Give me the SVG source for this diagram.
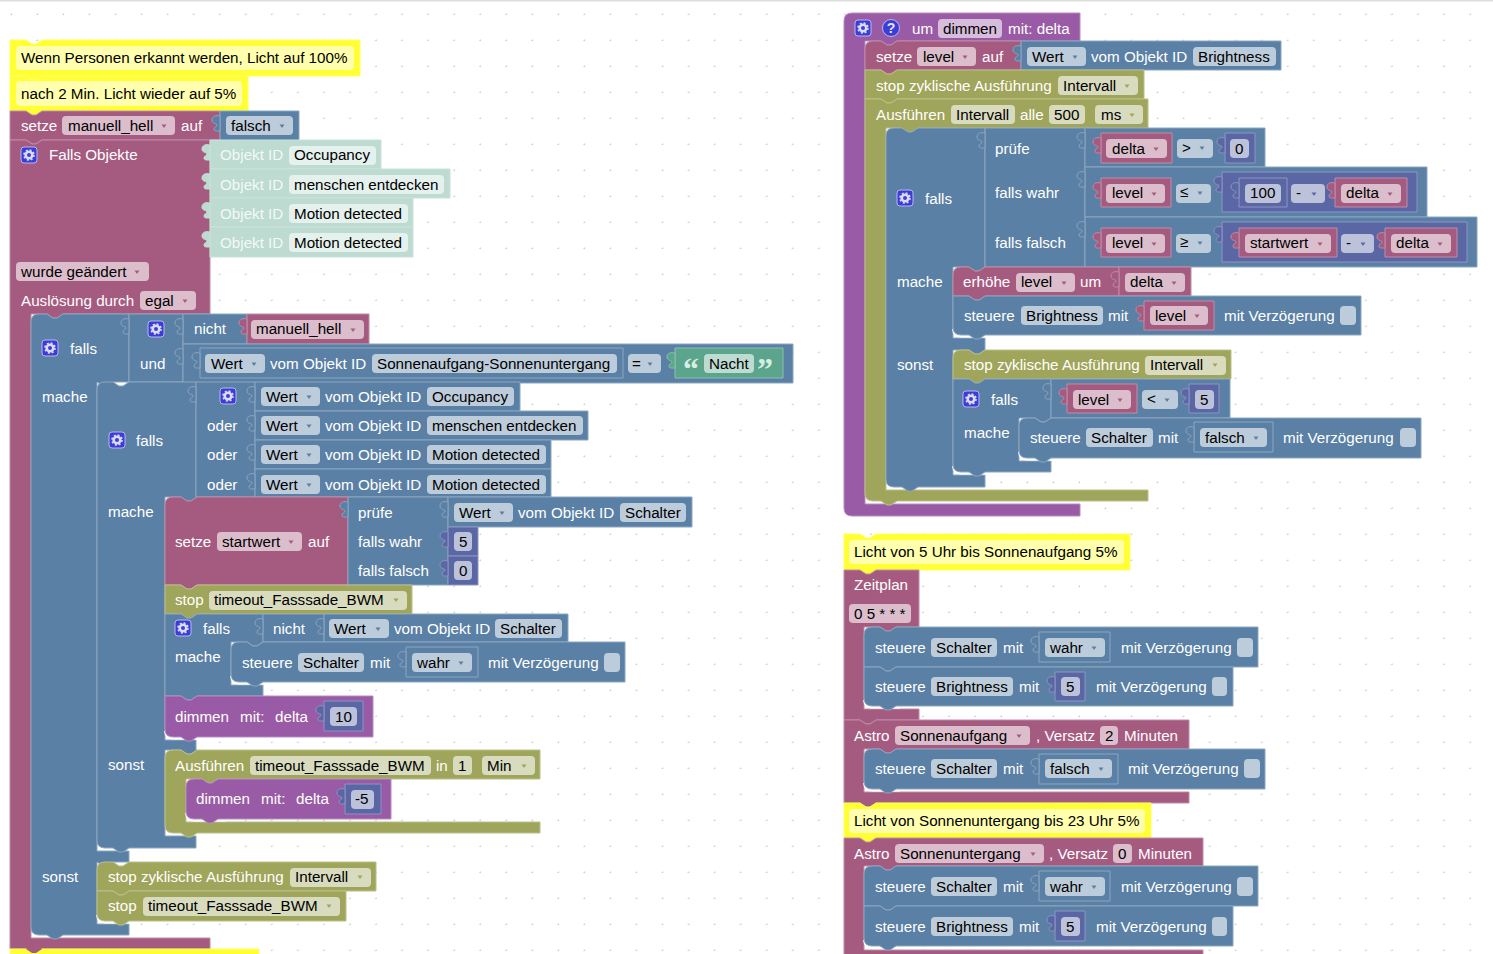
<svg xmlns="http://www.w3.org/2000/svg" width="1493" height="954" viewBox="0 0 1493 954">
<style>
text{font-family:"Liberation Sans",Arial,sans-serif;font-size:15.2px;white-space:pre}
.t{fill:#fff}.d{fill:#000}.c-t{fill:#fff;fill-opacity:.85}
.b{fill:#5B80A5;stroke:#8CA6C0}.m{fill:#A55B80;stroke:#C08CA6}.p{fill:#995BA5;stroke:#B88CC0}
.o{fill:#9FA55B;stroke:#BCC08C}.n{fill:#5B67A5;stroke:#8C95C0}.g{fill:#5BA58C;stroke:#8CC0AE}
.y{fill:#FFFF33;stroke:#FFFF66}.c{fill:#BDDBD1;stroke:#C8E2D9}
.f{fill:#fff;fill-opacity:.6;height:19px;rx:4px;stroke:none}
.w{fill:none;stroke:#fff;stroke-width:2}
.q{font-family:"Liberation Serif",serif;font-size:32px;font-weight:bold;fill:#D8ECE4}
</style>
<defs>
<pattern id="grid" x="11" y="14" width="26.05" height="26" patternUnits="userSpaceOnUse"><rect x="-.5" y="-.5" width="1.6" height="1.6" fill="#ccc"/><rect x="25.5" y="-.5" width="1.6" height="1.6" fill="#ccc"/><rect x="-.5" y="25.5" width="1.6" height="1.6" fill="#ccc"/></pattern>
<path id="tb" d="M0,0 C-4,-1 -8,0 -8,4 C-8,8 -3,7 -3,9 C-3,11 -6,10.500 -6,13 C-6,15.500 -3,15 0,15 z"/>
<path id="a" d="M.5,.5 h5 l-2.500,3.500 z" stroke="none"/>
<g id="gear"><rect x="-8" y="-8" width="16" height="16" rx="3" fill="#3D3DD6" stroke="#B7B7F0"/><circle r="3.3" fill="none" stroke="#D9DDF5" stroke-width="2.6"/><circle r="5" fill="none" stroke="#D9DDF5" stroke-width="1.6" stroke-dasharray="2 1.93"/></g>
</defs>
<rect width="1493" height="954" fill="#fff"/>
<rect width="1493" height="954" fill="url(#grid)"/>
<rect width="1493" height="1.5" fill="#ddd"/>

<g id="comment1"><path class="y" d="M10,40 H26 l6,4 4,0 6,-4 H360 V76 H42 l-6,4 -4,0 -6,-4 H10 z"/><rect class="f" x="16" y="46" width="338" height="24" style="height:24px"/><text class="d" x="21" y="63">Wenn Personen erkannt werden, Licht auf 100%</text></g>
<g id="comment2"><path class="y" d="M10,76 H26 l6,4 4,0 6,-4 H248 V111 H42 l-6,4 -4,0 -6,-4 H10 z"/><rect class="f" x="16" y="81" width="226" height="25" style="height:25px"/><text class="d" x="21" y="99">nach 2 Min. Licht wieder auf 5%</text></g>

<g id="set-manuell"><path class="m" d="M10,111 H26 l6,4 4,0 6,-4 H220 V140 H42 l-6,4 -4,0 -6,-4 H10 z"/><text class="t" x="21" y="131">setze</text><rect class="f" x="62" y="116" width="113"/><text class="d" x="68" y="131">manuell_hell</text><use href="#a" class="m" x="161" y="124"/><text class="t" x="181" y="131">auf</text></g>
<g id="val-falsch"><path class="b" d="M220,111 H299 V141 H220 z"/><use href="#tb" class="b" x="220" y="116"/><rect class="f" x="226" y="116" width="67"/><text class="d" x="231" y="131">falsch</text><use href="#a" class="b" x="279" y="124"/></g>

<g id="trigger"><path class="m" d="M10,140 H26 l6,4 4,0 6,-4 H210 V314 H63 l-6,4 -4,0 -6,-4 H31 V938 H210 V949 H42 l-6,4 -4,0 -6,-4 H10 z"/><use href="#gear" x="29" y="155"/><text class="t" x="49" y="160">Falls Objekte</text><rect class="f" x="16" y="262" width="133"/><text class="d" x="21" y="277">wurde geändert</text><use href="#a" class="m" x="134" y="270"/><text class="t" x="21" y="306">Auslösung durch</text><rect class="f" x="140" y="291" width="56"/><text class="d" x="145" y="306">egal</text><use href="#a" class="m" x="182" y="299"/></g>
<g id="obj-occupancy"><path class="c" d="M210,140 H381 V169 H210 z"/><use href="#tb" class="c" x="210" y="145"/><text class="c-t" x="220" y="160">Objekt ID</text><rect class="f" x="289" y="146" width="87"/><text class="d" x="294" y="160">Occupancy</text></g>
<g id="obj-menschen"><path class="c" d="M210,169 H450 V198 H210 z"/><use href="#tb" class="c" x="210" y="174"/><text class="c-t" x="220" y="190">Objekt ID</text><rect class="f" x="289" y="175" width="155"/><text class="d" x="294" y="190">menschen entdecken</text></g>
<g id="obj-motion1"><path class="c" d="M210,198 H413 V227 H210 z"/><use href="#tb" class="c" x="210" y="203"/><text class="c-t" x="220" y="219">Objekt ID</text><rect class="f" x="289" y="204" width="119"/><text class="d" x="294" y="219">Motion detected</text></g>
<g id="obj-motion2"><path class="c" d="M210,227 H413 V257 H210 z"/><use href="#tb" class="c" x="210" y="232"/><text class="c-t" x="220" y="248">Objekt ID</text><rect class="f" x="289" y="233" width="119"/><text class="d" x="294" y="248">Motion detected</text></g>

<g id="if-outer"><path class="b" d="M31,322 Q31,314 39,314 H47 l6,4 4,0 6,-4 H129 V382 H129 L113,382 l-6,4 -4,0 -6,-4 V851 H129 V862 H113 l-6,4 -4,0 -6,-4 V924 H129 V935 H63 l-6,4 -4,0 -6,-4 H39 Q31,935 31,927 z"/><use href="#gear" x="50" y="348"/><text class="t" x="70" y="354">falls</text><text class="t" x="42" y="402">mache</text><text class="t" x="42" y="882">sonst</text></g>
<g id="and"><path class="b" d="M129,314 H183 V382 H129 z"/><use href="#tb" class="b" x="129" y="319"/><use href="#gear" x="156" y="329"/><text class="t" x="140" y="369">und</text></g>
<g id="not1"><path class="b" d="M183,314 H247 V344 H183 z"/><use href="#tb" class="b" x="183" y="319"/><text class="t" x="194" y="334">nicht</text></g>
<g id="var-manuell"><path class="m" d="M247,314 H369 V344 H247 z"/><use href="#tb" class="m" x="247" y="319"/><rect class="f" x="251" y="320" width="113"/><text class="d" x="256" y="334">manuell_hell</text><use href="#a" class="m" x="350" y="328"/></g>
<g id="cmp-nacht"><path class="b" d="M183,344 H793 V383 H183 z"/><use href="#tb" class="b" x="183" y="349"/><rect class="f" x="628" y="354" width="33"/><text class="d" x="632" y="369">=</text><use href="#a" class="b" x="647" y="362"/></g>
<g id="wert-sonne"><path class="b" d="M200,348 H623 V378 H200 z"/><use href="#tb" class="b" x="200" y="353"/><rect class="f" x="205" y="354" width="60"/><text class="d" x="211" y="369">Wert</text><use href="#a" class="b" x="251" y="362"/><text class="t" x="270" y="369">vom Objekt ID</text><rect class="f" x="372" y="354" width="245"/><text class="d" x="377" y="369">Sonnenaufgang-Sonnenuntergang</text></g>
<g id="text-nacht"><path class="g" d="M675,348 H783 V378 H675 z"/><use href="#tb" class="g" x="675" y="353"/><text class="q" x="683" y="380">“</text><rect class="f" x="704" y="354" width="50"/><text class="d" x="709" y="369">Nacht</text><text class="q" x="757" y="380">”</text></g>

<g id="if-inner"><path class="b" d="M97,390 Q97,382 105,382 H113 l6,4 4,0 6,-4 H196 V497 H197 l-6,4 -4,0 -6,-4 H165 V740 H196 V750 H197 l-6,4 -4,0 -6,-4 H165 V836 H196 V848 H129 l-6,4 -4,0 -6,-4 H105 Q97,848 97,840 z"/><use href="#gear" x="117" y="440"/><text class="t" x="136" y="446">falls</text><text class="t" x="108" y="517">mache</text><text class="t" x="108" y="770">sonst</text></g>
<g id="or"><path class="b" d="M196,382 H255 V497 H196 z"/><use href="#tb" class="b" x="196" y="387"/><use href="#gear" x="228" y="396"/><text class="t" x="207" y="431">oder</text><text class="t" x="207" y="460">oder</text><text class="t" x="207" y="490">oder</text></g>
<g id="wert-occupancy"><path class="b" d="M255,382 H520 V411 H255 z"/><use href="#tb" class="b" x="255" y="387"/><rect class="f" x="261" y="387" width="59"/><text class="d" x="266" y="402">Wert</text><use href="#a" class="b" x="306" y="395"/><text class="t" x="325" y="402">vom Objekt ID</text><rect class="f" x="427" y="387" width="87"/><text class="d" x="432" y="402">Occupancy</text></g>
<g id="wert-menschen"><path class="b" d="M255,411 H588 V440 H255 z"/><use href="#tb" class="b" x="255" y="416"/><rect class="f" x="261" y="416" width="59"/><text class="d" x="266" y="431">Wert</text><use href="#a" class="b" x="306" y="424"/><text class="t" x="325" y="431">vom Objekt ID</text><rect class="f" x="427" y="416" width="156"/><text class="d" x="432" y="431">menschen entdecken</text></g>
<g id="wert-motion1"><path class="b" d="M255,440 H551 V469 H255 z"/><use href="#tb" class="b" x="255" y="445"/><rect class="f" x="261" y="445" width="59"/><text class="d" x="266" y="460">Wert</text><use href="#a" class="b" x="306" y="453"/><text class="t" x="325" y="460">vom Objekt ID</text><rect class="f" x="427" y="445" width="119"/><text class="d" x="432" y="460">Motion detected</text></g>
<g id="wert-motion2"><path class="b" d="M255,469 H551 V497 H255 z"/><use href="#tb" class="b" x="255" y="474"/><rect class="f" x="261" y="475" width="59"/><text class="d" x="266" y="490">Wert</text><use href="#a" class="b" x="306" y="483"/><text class="t" x="325" y="490">vom Objekt ID</text><rect class="f" x="427" y="475" width="119"/><text class="d" x="432" y="490">Motion detected</text></g>

<g id="set-startwert"><path class="m" d="M165,505 Q165,497 173,497 H181 l6,4 4,0 6,-4 H348 V585 H197 l-6,4 -4,0 -6,-4 H165 z"/><text class="t" x="175" y="547">setze</text><rect class="f" x="217" y="532" width="85"/><text class="d" x="222" y="547">startwert</text><use href="#a" class="m" x="288" y="540"/><text class="t" x="308" y="547">auf</text></g>
<g id="ternary1"><path class="b" d="M348,497 H448 V585 H348 z"/><use href="#tb" class="b" x="348" y="502"/><text class="t" x="358" y="518">prüfe</text><text class="t" x="358" y="547">falls wahr</text><text class="t" x="358" y="576">falls falsch</text></g>
<g id="wert-schalter1"><path class="b" d="M448,497 H692 V527 H448 z"/><use href="#tb" class="b" x="448" y="502"/><rect class="f" x="454" y="503" width="59"/><text class="d" x="459" y="518">Wert</text><use href="#a" class="b" x="499" y="511"/><text class="t" x="518" y="518">vom Objekt ID</text><rect class="f" x="620" y="503" width="66"/><text class="d" x="625" y="518">Schalter</text></g>
<g id="num-5a"><path class="n" d="M448,527 H478 V556 H448 z"/><use href="#tb" class="n" x="448" y="532"/><rect class="f" x="454" y="532" width="18"/><text class="d" x="459" y="547">5</text></g>
<g id="num-0a"><path class="n" d="M448,556 H478 V585 H448 z"/><use href="#tb" class="n" x="448" y="561"/><rect class="f" x="454" y="561" width="18"/><text class="d" x="459" y="576">0</text></g>

<g id="stop-timeout1"><path class="o" d="M165,585 H181 l6,4 4,0 6,-4 H412 V614 H197 l-6,4 -4,0 -6,-4 H165 z"/><text class="t" x="175" y="605">stop</text><rect class="f" x="209" y="591" width="198"/><text class="d" x="214" y="605">timeout_Fasssade_BWM</text><use href="#a" class="o" x="393" y="598"/></g>
<g id="if-nicht"><path class="b" d="M165,614 H181 l6,4 4,0 6,-4 H263 V642 H263 L263,642 l-6,4 -4,0 -6,-4 H231 V685 H263 V696 H197 l-6,4 -4,0 -6,-4 H165 z"/><use href="#gear" x="183" y="628"/><text class="t" x="203" y="634">falls</text><text class="t" x="175" y="662">mache</text></g>
<g id="not2"><path class="b" d="M263,614 H324 V642 H263 z"/><use href="#tb" class="b" x="263" y="619"/><text class="t" x="273" y="634">nicht</text></g>
<g id="wert-schalter2"><path class="b" d="M324,614 H568 V642 H324 z"/><use href="#tb" class="b" x="324" y="619"/><rect class="f" x="329" y="619" width="60"/><text class="d" x="334" y="634">Wert</text><use href="#a" class="b" x="375" y="627"/><text class="t" x="394" y="634">vom Objekt ID</text><rect class="f" x="495" y="619" width="67"/><text class="d" x="500" y="634">Schalter</text></g>
<g id="steuere1"><path class="w" d="M231,676 Q232,683.500 239,683.500 H268"/><path class="b" d="M231,650 Q231,642 239,642 H247 l6,4 4,0 6,-4 H625 V682 H263 l-6,4 -4,0 -6,-4 H239 Q231,682 231,674 z"/><text class="t" x="242" y="668">steuere</text><rect class="f" x="298" y="653" width="66"/><text class="d" x="303" y="668">Schalter</text><text class="t" x="370" y="668">mit</text><text class="t" x="488" y="668">mit Verzögerung</text><rect class="f" x="604" y="653" width="16"/></g>
<g id="val-wahr1"><path class="b" d="M406,647 H478 V677 H406 z"/><use href="#tb" class="b" x="406" y="652"/><rect class="f" x="412" y="653" width="60"/><text class="d" x="417" y="668">wahr</text><use href="#a" class="b" x="458" y="661"/></g>
<g id="dimmen10"><path class="w" d="M165,731 Q166,738.500 173,738.500 H200"/><path class="p" d="M165,696 H181 l6,4 4,0 6,-4 H373 V737 H197 l-6,4 -4,0 -6,-4 H173 Q165,737 165,729 z"/><text class="t" x="175" y="722">dimmen</text><text class="t" x="240" y="722">mit:</text><text class="t" x="275" y="722">delta</text></g>
<g id="num-10"><path class="n" d="M324,701 H363 V731 H324 z"/><use href="#tb" class="n" x="324" y="706"/><rect class="f" x="330" y="707" width="27"/><text class="d" x="335" y="722">10</text></g>
<g id="run-timeout"><path class="o" d="M165,758 Q165,750 173,750 H181 l6,4 4,0 6,-4 H540 V779 H218 l-6,4 -4,0 -6,-4 H186 V822 H540 V833 H197 l-6,4 -4,0 -6,-4 H173 Q165,833 165,825 z"/><text class="t" x="175" y="771">Ausführen</text><rect class="f" x="250" y="756" width="181"/><text class="d" x="255" y="771">timeout_Fasssade_BWM</text><text class="t" x="436" y="771">in</text><rect class="f" x="453" y="756" width="19"/><text class="d" x="458" y="771">1</text><rect class="f" x="482" y="756" width="53"/><text class="d" x="487" y="771">Min</text><use href="#a" class="o" x="521" y="764"/></g>
<g id="dimmen-5"><path class="w" d="M186,813 Q187,820.500 194,820.500 H226"/><path class="p" d="M186,787 Q186,779 194,779 H202 l6,4 4,0 6,-4 H391 V819 H218 l-6,4 -4,0 -6,-4 H194 Q186,819 186,811 z"/><text class="t" x="196" y="804">dimmen</text><text class="t" x="261" y="804">mit:</text><text class="t" x="296" y="804">delta</text></g>
<g id="num-m5"><path class="n" d="M345,784 H381 V814 H345 z"/><use href="#tb" class="n" x="345" y="789"/><rect class="f" x="351" y="790" width="23"/><text class="d" x="355" y="804">-5</text></g>
<g id="stop-interval1"><path class="o" d="M97,870 Q97,862 105,862 H113 l6,4 4,0 6,-4 H376 V891 H129 l-6,4 -4,0 -6,-4 H97 z"/><text class="t" x="108" y="882">stop zyklische Ausführung</text><rect class="f" x="290" y="868" width="81"/><text class="d" x="295" y="882">Intervall</text><use href="#a" class="o" x="357" y="875"/></g>
<g id="stop-timeout2"><path class="w" d="M97,915 Q98,922.500 105,922.500 H132"/><path class="o" d="M97,891 H113 l6,4 4,0 6,-4 H346 V921 H129 l-6,4 -4,0 -6,-4 H105 Q97,921 97,913 z"/><text class="t" x="108" y="911">stop</text><rect class="f" x="143" y="897" width="197"/><text class="d" x="148" y="911">timeout_Fasssade_BWM</text><use href="#a" class="o" x="326" y="904"/></g>
<g id="comment-bottom"><path class="y" d="M10,949 H26 l6,4 4,0 6,-4 H259 V955 H10 z"/></g>
<g id="trigger-tab"><path fill="#A55B80" d="M26,949 l6,4 4,0 6,-4 z"/></g>

<g id="proc-dimmen"><path class="p" d="M844,21 Q844,13 852,13 H1080 V41 H897 l-6,4 -4,0 -6,-4 H865 V504 H1080 V516 H852 Q844,516 844,508 z"/><use href="#gear" x="863" y="28"/><circle cx="891" cy="28" r="8.500" fill="#3D3DD6" stroke="#B7B7F0"/><text x="891" y="33" text-anchor="middle" style="font-size:14px;font-weight:bold;fill:#E6E6FA">?</text><text class="t" x="912" y="34">um</text><rect class="f" x="938" y="19" width="64"/><text class="d" x="943" y="34">dimmen</text><text class="t" x="1008" y="34">mit: delta</text></g>
<g id="set-level"><path class="m" d="M865,49 Q865,41 873,41 H881 l6,4 4,0 6,-4 H1021 V70 H897 l-6,4 -4,0 -6,-4 H865 z"/><text class="t" x="876" y="62">setze</text><rect class="f" x="917" y="47" width="59"/><text class="d" x="923" y="62">level</text><use href="#a" class="m" x="962" y="55"/><text class="t" x="982" y="62">auf</text></g>
<g id="wert-brightness"><path class="b" d="M1021,41 H1281 V70 H1021 z"/><use href="#tb" class="b" x="1021" y="46"/><rect class="f" x="1027" y="47" width="59"/><text class="d" x="1032" y="62">Wert</text><use href="#a" class="b" x="1072" y="55"/><text class="t" x="1091" y="62">vom Objekt ID</text><rect class="f" x="1193" y="47" width="83"/><text class="d" x="1198" y="62">Brightness</text></g>
<g id="stop-interval2"><path class="o" d="M865,70 H881 l6,4 4,0 6,-4 H1144 V99 H897 l-6,4 -4,0 -6,-4 H865 z"/><text class="t" x="876" y="91">stop zyklische Ausführung</text><rect class="f" x="1058" y="76" width="80"/><text class="d" x="1063" y="91">Intervall</text><use href="#a" class="o" x="1124" y="84"/></g>
<g id="run-interval"><path class="o" d="M865,99 H881 l6,4 4,0 6,-4 H1148 V128 H918 l-6,4 -4,0 -6,-4 H886 V490 H1148 V501 H897 l-6,4 -4,0 -6,-4 H873 Q865,501 865,493 z"/><text class="t" x="876" y="120">Ausführen</text><rect class="f" x="951" y="105" width="64"/><text class="d" x="956" y="120">Intervall</text><text class="t" x="1020" y="120">alle</text><rect class="f" x="1049" y="105" width="36"/><text class="d" x="1054" y="120">500</text><rect class="f" x="1095" y="105" width="48"/><text class="d" x="1101" y="120">ms</text><use href="#a" class="o" x="1129" y="113"/></g>
<g id="if-delta"><path class="b" d="M886,136 Q886,128 894,128 H902 l6,4 4,0 6,-4 H985 V267 H985 l-6,4 -4,0 -6,-4 H953 V338 H985 V350 H985 l-6,4 -4,0 -6,-4 H953 V475 H985 V487 H918 l-6,4 -4,0 -6,-4 H894 Q886,487 886,479 z"/><use href="#gear" x="905" y="198"/><text class="t" x="925" y="204">falls</text><text class="t" x="897" y="287">mache</text><text class="t" x="897" y="370">sonst</text></g>
<g id="ternary2"><path class="b" d="M985,128 H1085 V267 H985 z"/><use href="#tb" class="b" x="985" y="133"/><text class="t" x="995" y="154">prüfe</text><text class="t" x="995" y="198">falls wahr</text><text class="t" x="995" y="248">falls falsch</text></g>
<g id="cmp-delta"><path class="b" d="M1085,128 H1265 V167 H1085 z"/><use href="#tb" class="b" x="1085" y="133"/><rect class="f" x="1177" y="139" width="36"/><text class="d" x="1182" y="153">&gt;</text><use href="#a" class="b" x="1199" y="146"/></g>
<g id="var-delta1"><path class="m" d="M1101,133 H1172 V163 H1101 z"/><use href="#tb" class="m" x="1101" y="138"/><rect class="f" x="1106" y="139" width="61"/><text class="d" x="1112" y="154">delta</text><use href="#a" class="m" x="1153" y="147"/></g>
<g id="num-0b"><path class="n" d="M1225,133 H1255 V163 H1225 z"/><use href="#tb" class="n" x="1225" y="138"/><rect class="f" x="1230" y="139" width="19"/><text class="d" x="1235" y="154">0</text></g>
<g id="cmp-le"><path class="b" d="M1085,167 H1427 V217 H1085 z"/><use href="#tb" class="b" x="1085" y="172"/><rect class="f" x="1176" y="184" width="35"/><text class="d" x="1180" y="197">≤</text><use href="#a" class="b" x="1197" y="191"/></g>
<g id="var-level1"><path class="m" d="M1101,178 H1171 V207 H1101 z"/><use href="#tb" class="m" x="1101" y="183"/><rect class="f" x="1106" y="184" width="59"/><text class="d" x="1112" y="198">level</text><use href="#a" class="m" x="1151" y="192"/></g>
<g id="math-100"><path class="n" d="M1222,172 H1417 V212 H1222 z"/><use href="#tb" class="n" x="1222" y="177"/><rect class="f" x="1291" y="184" width="34"/><text class="d" x="1296" y="198">-</text><use href="#a" class="n" x="1311" y="192"/></g>
<g id="num-100"><path class="n" d="M1239,178 H1287 V207 H1239 z"/><use href="#tb" class="n" x="1239" y="183"/><rect class="f" x="1245" y="184" width="36"/><text class="d" x="1250" y="198">100</text></g>
<g id="var-delta2"><path class="m" d="M1335,178 H1407 V207 H1335 z"/><use href="#tb" class="m" x="1335" y="183"/><rect class="f" x="1341" y="184" width="60"/><text class="d" x="1346" y="198">delta</text><use href="#a" class="m" x="1387" y="192"/></g>
<g id="cmp-ge"><path class="b" d="M1085,217 H1477 V267 H1085 z"/><use href="#tb" class="b" x="1085" y="222"/><rect class="f" x="1176" y="234" width="35"/><text class="d" x="1180" y="247">≥</text><use href="#a" class="b" x="1197" y="241"/></g>
<g id="var-level2"><path class="m" d="M1101,228 H1171 V257 H1101 z"/><use href="#tb" class="m" x="1101" y="233"/><rect class="f" x="1106" y="234" width="59"/><text class="d" x="1112" y="248">level</text><use href="#a" class="m" x="1151" y="242"/></g>
<g id="math-startwert"><path class="n" d="M1222,222 H1467 V262 H1222 z"/><use href="#tb" class="n" x="1222" y="227"/><rect class="f" x="1341" y="234" width="33"/><text class="d" x="1346" y="248">-</text><use href="#a" class="n" x="1360" y="242"/></g>
<g id="var-startwert"><path class="m" d="M1239,228 H1337 V257 H1239 z"/><use href="#tb" class="m" x="1239" y="233"/><rect class="f" x="1245" y="234" width="86"/><text class="d" x="1250" y="248">startwert</text><use href="#a" class="m" x="1317" y="242"/></g>
<g id="var-delta3"><path class="m" d="M1385,228 H1457 V257 H1385 z"/><use href="#tb" class="m" x="1385" y="233"/><rect class="f" x="1391" y="234" width="60"/><text class="d" x="1396" y="248">delta</text><use href="#a" class="m" x="1437" y="242"/></g>
<g id="inc-level"><path class="m" d="M953,275 Q953,267 961,267 H969 l6,4 4,0 6,-4 H1119 V296 H985 l-6,4 -4,0 -6,-4 H953 z"/><text class="t" x="963" y="287">erhöhe</text><rect class="f" x="1016" y="273" width="59"/><text class="d" x="1021" y="287">level</text><use href="#a" class="m" x="1061" y="281"/><text class="t" x="1080" y="287">um</text></g>
<g id="var-delta4"><path class="m" d="M1119,267 H1191 V296 H1119 z"/><use href="#tb" class="m" x="1119" y="272"/><rect class="f" x="1125" y="273" width="60"/><text class="d" x="1130" y="287">delta</text><use href="#a" class="m" x="1171" y="281"/></g>
<g id="steuere2"><path class="w" d="M953,329 Q954,336.500 961,336.500 H990"/><path class="b" d="M953,296 H969 l6,4 4,0 6,-4 H1361 V335 H985 l-6,4 -4,0 -6,-4 H961 Q953,335 953,327 z"/><text class="t" x="964" y="321">steuere</text><rect class="f" x="1021" y="306" width="82"/><text class="d" x="1026" y="321">Brightness</text><text class="t" x="1108" y="321">mit</text><text class="t" x="1224" y="321">mit Verzögerung</text><rect class="f" x="1340" y="306" width="16"/></g>
<g id="var-level3"><path class="m" d="M1144,301 H1214 V330 H1144 z"/><use href="#tb" class="m" x="1144" y="306"/><rect class="f" x="1150" y="306" width="58"/><text class="d" x="1155" y="321">level</text><use href="#a" class="m" x="1194" y="314"/></g>
<g id="stop-interval3"><path class="o" d="M953,358 Q953,350 961,350 H969 l6,4 4,0 6,-4 H1231 V379 H985 l-6,4 -4,0 -6,-4 H953 z"/><text class="t" x="964" y="370">stop zyklische Ausführung</text><rect class="f" x="1145" y="356" width="81"/><text class="d" x="1150" y="370">Intervall</text><use href="#a" class="o" x="1212" y="363"/></g>
<g id="if-level"><path class="w" d="M953,466 Q954,473.500 961,473.500 H990"/><path class="b" d="M953,379 H969 l6,4 4,0 6,-4 H1051 V418 H1051 l-6,4 -4,0 -6,-4 H1019 V461 H1051 V472 H985 l-6,4 -4,0 -6,-4 H961 Q953,472 953,464 z"/><use href="#gear" x="971" y="399"/><text class="t" x="991" y="405">falls</text><text class="t" x="964" y="438">mache</text></g>
<g id="cmp-lt"><path class="b" d="M1051,379 H1230 V418 H1051 z"/><use href="#tb" class="b" x="1051" y="384"/><rect class="f" x="1142" y="390" width="36"/><text class="d" x="1147" y="404">&lt;</text><use href="#a" class="b" x="1164" y="398"/></g>
<g id="var-level4"><path class="m" d="M1067,384 H1137 V413 H1067 z"/><use href="#tb" class="m" x="1067" y="389"/><rect class="f" x="1073" y="390" width="58"/><text class="d" x="1078" y="405">level</text><use href="#a" class="m" x="1117" y="398"/></g>
<g id="num-5b"><path class="n" d="M1189,384 H1219 V413 H1189 z"/><use href="#tb" class="n" x="1189" y="389"/><rect class="f" x="1195" y="390" width="19"/><text class="d" x="1200" y="405">5</text></g>
<g id="steuere3"><path class="w" d="M1019,452 Q1020,459.500 1027,459.500 H1056"/><path class="b" d="M1019,426 Q1019,418 1027,418 H1035 l6,4 4,0 6,-4 H1421 V458 H1051 l-6,4 -4,0 -6,-4 H1027 Q1019,458 1019,450 z"/><text class="t" x="1030" y="443">steuere</text><rect class="f" x="1086" y="428" width="67"/><text class="d" x="1091" y="443">Schalter</text><text class="t" x="1158" y="443">mit</text><text class="t" x="1283" y="443">mit Verzögerung</text><rect class="f" x="1400" y="428" width="16"/></g>
<g id="val-falsch2"><path class="b" d="M1194,422 H1273 V452 H1194 z"/><use href="#tb" class="b" x="1194" y="427"/><rect class="f" x="1200" y="428" width="67"/><text class="d" x="1205" y="443">falsch</text><use href="#a" class="b" x="1253" y="436"/></g>

<g id="comment3"><path class="y" d="M844,534 H860 l6,4 4,0 6,-4 H1130 V570 H876 l-6,4 -4,0 -6,-4 H844 z"/><rect class="f" x="849" y="540" width="275" height="24" style="height:24px"/><text class="d" x="854" y="557">Licht von 5 Uhr bis Sonnenaufgang 5%</text></g>
<g id="zeitplan"><path class="m" d="M844,570 H860 l6,4 4,0 6,-4 H919 V627 H896 l-6,4 -4,0 -6,-4 H864 V709 H919 V720 H876 l-6,4 -4,0 -6,-4 H844 z"/><text class="t" x="854" y="590">Zeitplan</text><rect class="f" x="849" y="604" width="62"/><text class="d" x="854" y="619">0 5 * * *</text></g>
<g id="steuere4"><path class="b" d="M864,635 Q864,627 872,627 H880 l6,4 4,0 6,-4 H1258 V667 H896 l-6,4 -4,0 -6,-4 H864 z"/><text class="t" x="875" y="653">steuere</text><rect class="f" x="931" y="638" width="66"/><text class="d" x="936" y="653">Schalter</text><text class="t" x="1003" y="653">mit</text><text class="t" x="1121" y="653">mit Verzögerung</text><rect class="f" x="1237" y="638" width="16"/></g>
<g id="val-wahr2"><path class="b" d="M1039,632 H1110 V662 H1039 z"/><use href="#tb" class="b" x="1039" y="637"/><rect class="f" x="1045" y="638" width="60"/><text class="d" x="1050" y="653">wahr</text><use href="#a" class="b" x="1091" y="646"/></g>
<g id="steuere5"><path class="w" d="M864,700 Q865,707.500 872,707.500 H900"/><path class="b" d="M864,667 H880 l6,4 4,0 6,-4 H1233 V706 H896 l-6,4 -4,0 -6,-4 H872 Q864,706 864,698 z"/><text class="t" x="875" y="692">steuere</text><rect class="f" x="931" y="677" width="82"/><text class="d" x="936" y="692">Brightness</text><text class="t" x="1019" y="692">mit</text><text class="t" x="1096" y="692">mit Verzögerung</text><rect class="f" x="1212" y="677" width="15"/></g>
<g id="num-5c"><path class="n" d="M1055,672 H1085 V701 H1055 z"/><use href="#tb" class="n" x="1055" y="677"/><rect class="f" x="1061" y="677" width="19"/><text class="d" x="1066" y="692">5</text></g>
<g id="astro1"><path class="m" d="M844,720 H860 l6,4 4,0 6,-4 H1189 V749 H896 l-6,4 -4,0 -6,-4 H864 V792 H1189 V803 H876 l-6,4 -4,0 -6,-4 H844 z"/><text class="t" x="854" y="741">Astro</text><rect class="f" x="895" y="726" width="135"/><text class="d" x="900" y="741">Sonnenaufgang</text><use href="#a" class="m" x="1016" y="734"/><text class="t" x="1036" y="741">, Versatz</text><rect class="f" x="1100" y="726" width="18"/><text class="d" x="1105" y="741">2</text><text class="t" x="1124" y="741">Minuten</text></g>
<g id="steuere6"><path class="w" d="M864,783 Q865,790.500 872,790.500 H900"/><path class="b" d="M864,757 Q864,749 872,749 H880 l6,4 4,0 6,-4 H1265 V789 H896 l-6,4 -4,0 -6,-4 H872 Q864,789 864,781 z"/><text class="t" x="875" y="774">steuere</text><rect class="f" x="931" y="759" width="66"/><text class="d" x="936" y="774">Schalter</text><text class="t" x="1003" y="774">mit</text><text class="t" x="1128" y="774">mit Verzögerung</text><rect class="f" x="1244" y="759" width="16"/></g>
<g id="val-falsch3"><path class="b" d="M1039,754 H1118 V784 H1039 z"/><use href="#tb" class="b" x="1039" y="759"/><rect class="f" x="1045" y="759" width="67"/><text class="d" x="1050" y="774">falsch</text><use href="#a" class="b" x="1098" y="767"/></g>
<g id="comment4"><path class="y" d="M844,803 H860 l6,4 4,0 6,-4 H1151 V838 H876 l-6,4 -4,0 -6,-4 H844 z"/><rect class="f" x="849" y="809" width="296" height="24" style="height:24px"/><text class="d" x="854" y="826">Licht von Sonnenuntergang bis 23 Uhr 5%</text></g>
<g id="astro2"><path class="m" d="M844,838 H860 l6,4 4,0 6,-4 H1203 V866 H896 l-6,4 -4,0 -6,-4 H864 V950 H1203 V956 H844 z"/><text class="t" x="854" y="859">Astro</text><rect class="f" x="895" y="844" width="149"/><text class="d" x="900" y="859">Sonnenuntergang</text><use href="#a" class="m" x="1030" y="852"/><text class="t" x="1049" y="859">, Versatz</text><rect class="f" x="1113" y="844" width="19"/><text class="d" x="1118" y="859">0</text><text class="t" x="1138" y="859">Minuten</text></g>
<g id="steuere7"><path class="b" d="M864,874 Q864,866 872,866 H880 l6,4 4,0 6,-4 H1258 V906 H896 l-6,4 -4,0 -6,-4 H864 z"/><text class="t" x="875" y="892">steuere</text><rect class="f" x="931" y="877" width="66"/><text class="d" x="936" y="892">Schalter</text><text class="t" x="1003" y="892">mit</text><text class="t" x="1121" y="892">mit Verzögerung</text><rect class="f" x="1237" y="877" width="16"/></g>
<g id="val-wahr3"><path class="b" d="M1039,871 H1110 V901 H1039 z"/><use href="#tb" class="b" x="1039" y="876"/><rect class="f" x="1045" y="877" width="60"/><text class="d" x="1050" y="892">wahr</text><use href="#a" class="b" x="1091" y="885"/></g>
<g id="steuere8"><path class="w" d="M864,940 Q865,947.500 872,947.500 H900"/><path class="b" d="M864,906 H880 l6,4 4,0 6,-4 H1233 V946 H896 l-6,4 -4,0 -6,-4 H872 Q864,946 864,938 z"/><text class="t" x="875" y="932">steuere</text><rect class="f" x="931" y="917" width="82"/><text class="d" x="936" y="932">Brightness</text><text class="t" x="1019" y="932">mit</text><text class="t" x="1096" y="932">mit Verzögerung</text><rect class="f" x="1212" y="917" width="15"/></g>
<g id="num-5d"><path class="n" d="M1055,911 H1085 V941 H1055 z"/><use href="#tb" class="n" x="1055" y="916"/><rect class="f" x="1061" y="917" width="19"/><text class="d" x="1066" y="932">5</text></g>
</svg>
